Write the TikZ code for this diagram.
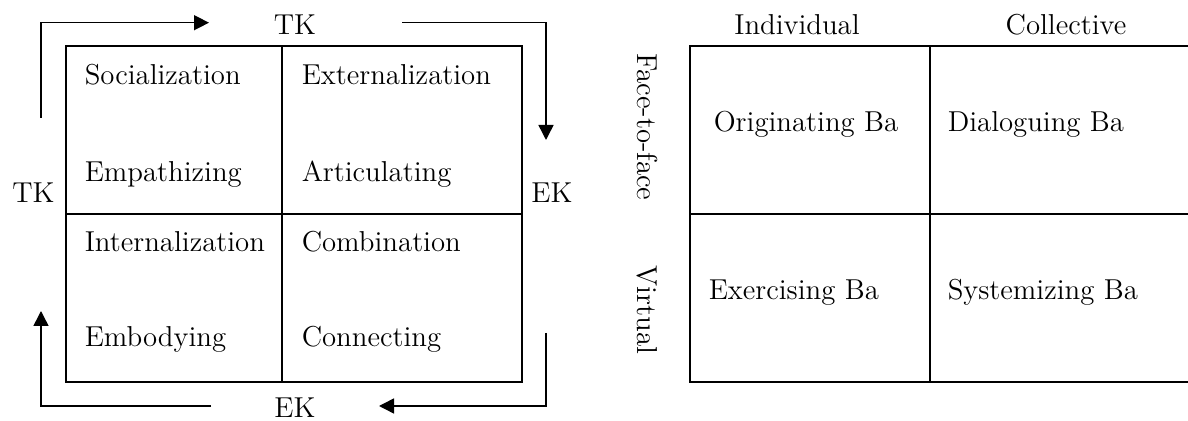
\documentclass[tikz,border=0pt]{standalone}
\usepackage{tikz}
\usetikzlibrary{arrows.meta}

\begin{document}
\begin{tikzpicture}[x=0.5pt, y=-0.5pt, line width=0.75pt,
    lbl/.style={font=\fontsize{14.4}{17}\selectfont, inner sep=0pt},
    cyc/.style={-{Triangle[length=7.5pt,width=7.5pt]}}]
    \useasboundingbox (0,0) rectangle (1188,421);

    % SECI grid
    \draw (66,46) rectangle (522,382);
    \draw (282,46) -- (282,382);
    \draw (66,214) -- (522,214);

    % modes and their ba
    \node[lbl, anchor=base west] (soc) at (84,85) {Socialization};
    \node[lbl, anchor=base west] (ext) at (301,85) {Externalization};
    \node[lbl, anchor=base west] (emp) at (84,182) {Empathizing};
    \node[lbl, anchor=base west] (art) at (301,182) {Articulating};
    \node[lbl, anchor=base west] (int) at (84,252) {Internalization};
    \node[lbl, anchor=base west] (com) at (301,252) {Combination};
    \node[lbl, anchor=base west] (emb) at (84,347) {Embodying};
    \node[lbl, anchor=base west] (con) at (301,347) {Connecting};

    % knowledge labels
    \node[lbl, anchor=base] (tktop) at (295,35) {TK};
    \node[lbl, anchor=base] (tkleft) at (33.5,203) {TK};
    \node[lbl, anchor=base] (ekright) at (552,203) {EK};
    \node[lbl, anchor=base] (ekbot) at (295,418) {EK};

    % spiral arrows
    \coordinate (a1) at (41,118);
    \coordinate (a1end) at (209,22.7);
    \coordinate (a2) at (402,22.7);
    \coordinate (a2end) at (546,140);
    \coordinate (a3) at (546,333);
    \coordinate (a3end) at (379,406);
    \coordinate (a4) at (211,406);
    \coordinate (a4end) at (41,311);
    \draw[cyc] (a1) |- (a1end);
    \draw[cyc] (a2) -| (a2end);
    \draw[cyc] (a3) |- (a3end);
    \draw[cyc] (a4) -| (a4end);

    % ba grid
    \draw (1188,46) -- (690,46) -- (690,382) -- (1188,382);
    \draw (930,46) -- (930,382);
    \draw (690,214) -- (1188,214);

    % headers
    \node[lbl, anchor=base] (indiv) at (797,35) {Individual};
    \node[lbl, anchor=base] (coll) at (1066,35) {Collective};
    \node[lbl, rotate=-90] (f2f) at (647,127) {Face-to-face};
    \node[lbl, rotate=-90] (virt) at (647,310) {Virtual};

    % ba types
    \node[lbl, anchor=base west] (orig) at (713,132) {Originating Ba};
    \node[lbl, anchor=base west] (dial) at (947,132) {Dialoguing Ba};
    \node[lbl, anchor=base west] (exer) at (708,300) {Exercising Ba};
    \node[lbl, anchor=base west] (syst) at (947,300) {Systemizing Ba};
\end{tikzpicture}
\end{document}
